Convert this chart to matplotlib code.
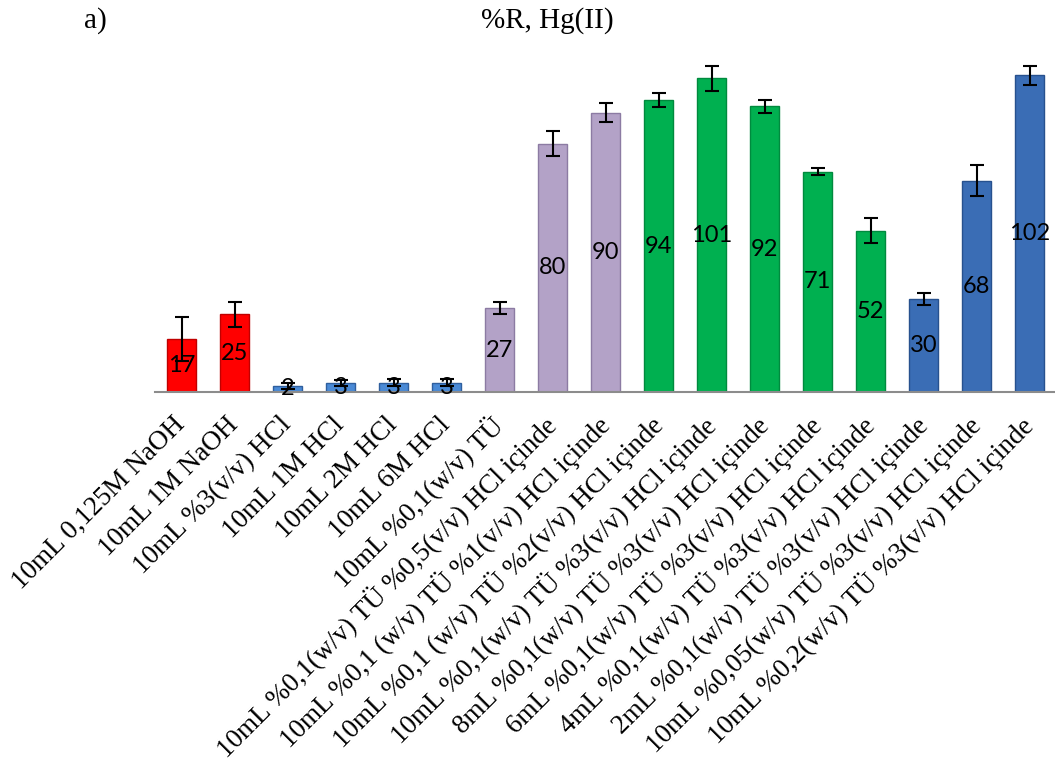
import matplotlib.pyplot as plt
import numpy as np

categories = [
    "10mL 0,125M NaOH",
    "10mL 1M NaOH",
    "10mL %3(v/v) HCl",
    "10mL 1M HCl",
    "10mL 2M HCl",
    "10mL 6M HCl",
    "10mL %0,1(w/v) TÜ",
    "10mL %0,1(w/v) TÜ %0,5(v/v) HCl içinde",
    "10mL %0,1 (w/v) TÜ %1(v/v) HCl içinde",
    "10mL %0,1 (w/v) TÜ %2(v/v) HCl içinde",
    "10mL %0,1(w/v) TÜ %3(v/v) HCl içinde",
    "8mL %0,1(w/v) TÜ %3(v/v) HCl içinde",
    "6mL %0,1(w/v) TÜ %3(v/v) HCl içinde",
    "4mL %0,1(w/v) TÜ %3(v/v) HCl içinde",
    "2mL %0,1(w/v) TÜ %3(v/v) HCl içinde",
    "10mL %0,05(w/v) TÜ %3(v/v) HCl içinde",
    "10mL %0,2(w/v) TÜ %3(v/v) HCl içinde",
]
values = [17, 25, 2, 3, 3, 3, 27, 80, 90, 94, 101, 92, 71, 52, 30, 68, 102]
errors = [7, 4, 1, 1, 1.2, 1.2, 2, 4, 3, 2.2, 4, 2, 1, 4, 2, 5, 3]
colors = (["#FF0000"] * 2 + ["#4A8AD6"] * 4 + ["#B3A2C7"] * 3
          + ["#00B050"] * 5 + ["#3A6DB5"] * 3)
edges = (["#C00000"] * 2 + ["#2F5F9E"] * 4 + ["#8C7BA3"] * 3
         + ["#008A3E"] * 5 + ["#27518E"] * 3)

fig = plt.figure(figsize=(10.55, 7.62), dpi=100)
ax = fig.add_axes([155 / 1055, 370 / 762, 901 / 1055, 341.6 / 762])

x = np.arange(len(values))
bars = ax.bar(x, values, width=0.53, color=colors, edgecolor=edges, linewidth=1)
ax.errorbar(x, values, yerr=errors, fmt="none", ecolor="black",
            elinewidth=1.5, capsize=5, capthick=1.5, clip_on=False)

for xi, v in zip(x, values):
    ax.text(xi, v / 2, str(v), ha="center", va="center",
            fontsize=17, family="Lato", color="black")

ax.set_xlim(-0.5, 16.5)
ax.set_ylim(0, 110)
ax.set_yticks([])
ax.set_xticks(x)
ax.set_xticklabels(categories, rotation=45, ha="right", va="center",
                   rotation_mode="anchor", family="Liberation Serif", fontsize=19.5)
ax.tick_params(axis="x", length=0, pad=21)
for s in ["top", "right", "left"]:
    ax.spines[s].set_visible(False)
ax.spines["bottom"].set_color("#8C8C8C")
ax.spines["bottom"].set_linewidth(1.5)

fig.text(547 / 1055, 1 - 21 / 762, "%R, Hg(II)", ha="center", va="center",
         family="Liberation Serif", fontsize=21)
fig.text(95 / 1055, 1 - 21 / 762, "a)", ha="center", va="center",
         family="Liberation Serif", fontsize=21)

fig.savefig("out.png", dpi=100)
